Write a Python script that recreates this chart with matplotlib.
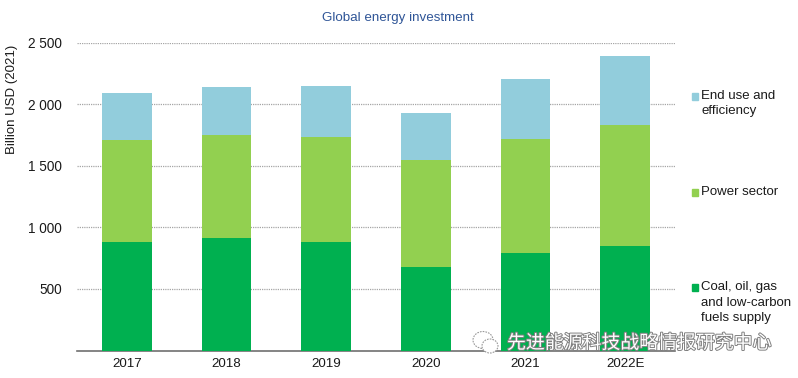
import matplotlib
matplotlib.use("Agg")
import matplotlib.pyplot as plt
import matplotlib.patheffects as pe
from matplotlib.patches import Ellipse

years = ["2017", "2018", "2019", "2020", "2021", "2022E"]
fuels = [880, 913, 880, 678, 791, 848]
power = [828, 836, 853, 868, 926, 982]
end_use = [386, 389, 414, 382, 487, 560]
yticks = [500, 1000, 1500, 2000, 2500]
ylabels = ["500", "1 000", "1 500", "2 000", "2 500"]

W, H = 798, 378
plt.rcParams['font.family'] = ['Liberation Sans', 'DejaVu Sans']
fig = plt.figure(figsize=(W/100, H/100), dpi=100)
ax = fig.add_axes([77/W, 1-350.5/H, 598/W, 308/H])
xs = list(range(len(years)))
colors = ["#00B050", "#92D050", "#92CDDC"]
bw = 0.5
ax.set_axisbelow(True)
ax.yaxis.grid(True, color="#A6A6A6", linestyle=(0, (1, 0.8)), linewidth=0.9)
ax.bar(xs, fuels, bw, color=colors[0], edgecolor="none", zorder=3)
ax.bar(xs, power, bw, bottom=fuels, color=colors[1], edgecolor="none", zorder=3)
bot = [a+b for a, b in zip(fuels, power)]
ax.bar(xs, end_use, bw, bottom=bot, color=colors[2], edgecolor="none", zorder=3)
ax.set_xlim(-0.5, 5.5)
ax.set_ylim(0, 2500)
ax.set_yticks(yticks, ylabels, fontsize=9.8, color="#1a1a1a")
ax.set_xticks(xs, years, fontsize=9.6, color="#1a1a1a")
ax.tick_params(length=0)
ax.tick_params(axis='y', pad=11)
ax.tick_params(axis='x', pad=5.5)
for s in ["top", "right", "left"]:
    ax.spines[s].set_visible(False)
ax.spines["bottom"].set_color("#707070")
ax.spines["bottom"].set_linewidth(1.2)

fig.text(398/W, 1-18/H, "Global energy investment", ha="center", va="center",
         fontsize=9.6, color="#2F5597")
fig.text(12/W, 1-99/H, "Billion USD (2021)", rotation=90, ha="center", va="center",
         fontsize=9.5, color="#1a1a1a")

legend = [("End use and\nefficiency", colors[2], 96, 103.5),
          ("Power sector", colors[1], 192, 192),
          ("Coal, oil, gas\nand low-carbon\nfuels supply", colors[0], 287, 302.5)]
for label, c, sy, ty in legend:
    fig.patches.append(plt.Rectangle((691.5/W, 1-(sy+3.5)/H), 6.5/W, 7/H, color=c,
                                     transform=fig.transFigure))
    fig.text(701/W, 1-ty/H, label, ha="left", va="center", fontsize=9.5,
             color="#1a1a1a", linespacing=1.38)

fig.text(507/W, 1-343/H, "先进能源科技战略情报研究中心",
         family=['Noto Sans CJK SC', 'DejaVu Sans'], ha="left", va="center", fontsize=13.6,
         color="#FFFFFF", zorder=10,
         path_effects=[pe.withStroke(linewidth=1.4, foreground="#808080")])
for cx, cy, w, h in [(483, 340, 20, 17), (490, 346, 16, 14)]:
    fig.patches.append(Ellipse((cx/W, 1-cy/H), w/W, h/H, facecolor="white",
                               edgecolor="#999999", linewidth=0.8, linestyle=(0, (1.5, 1)),
                               transform=fig.transFigure, zorder=9))
fig.savefig("out.png", dpi=100)
